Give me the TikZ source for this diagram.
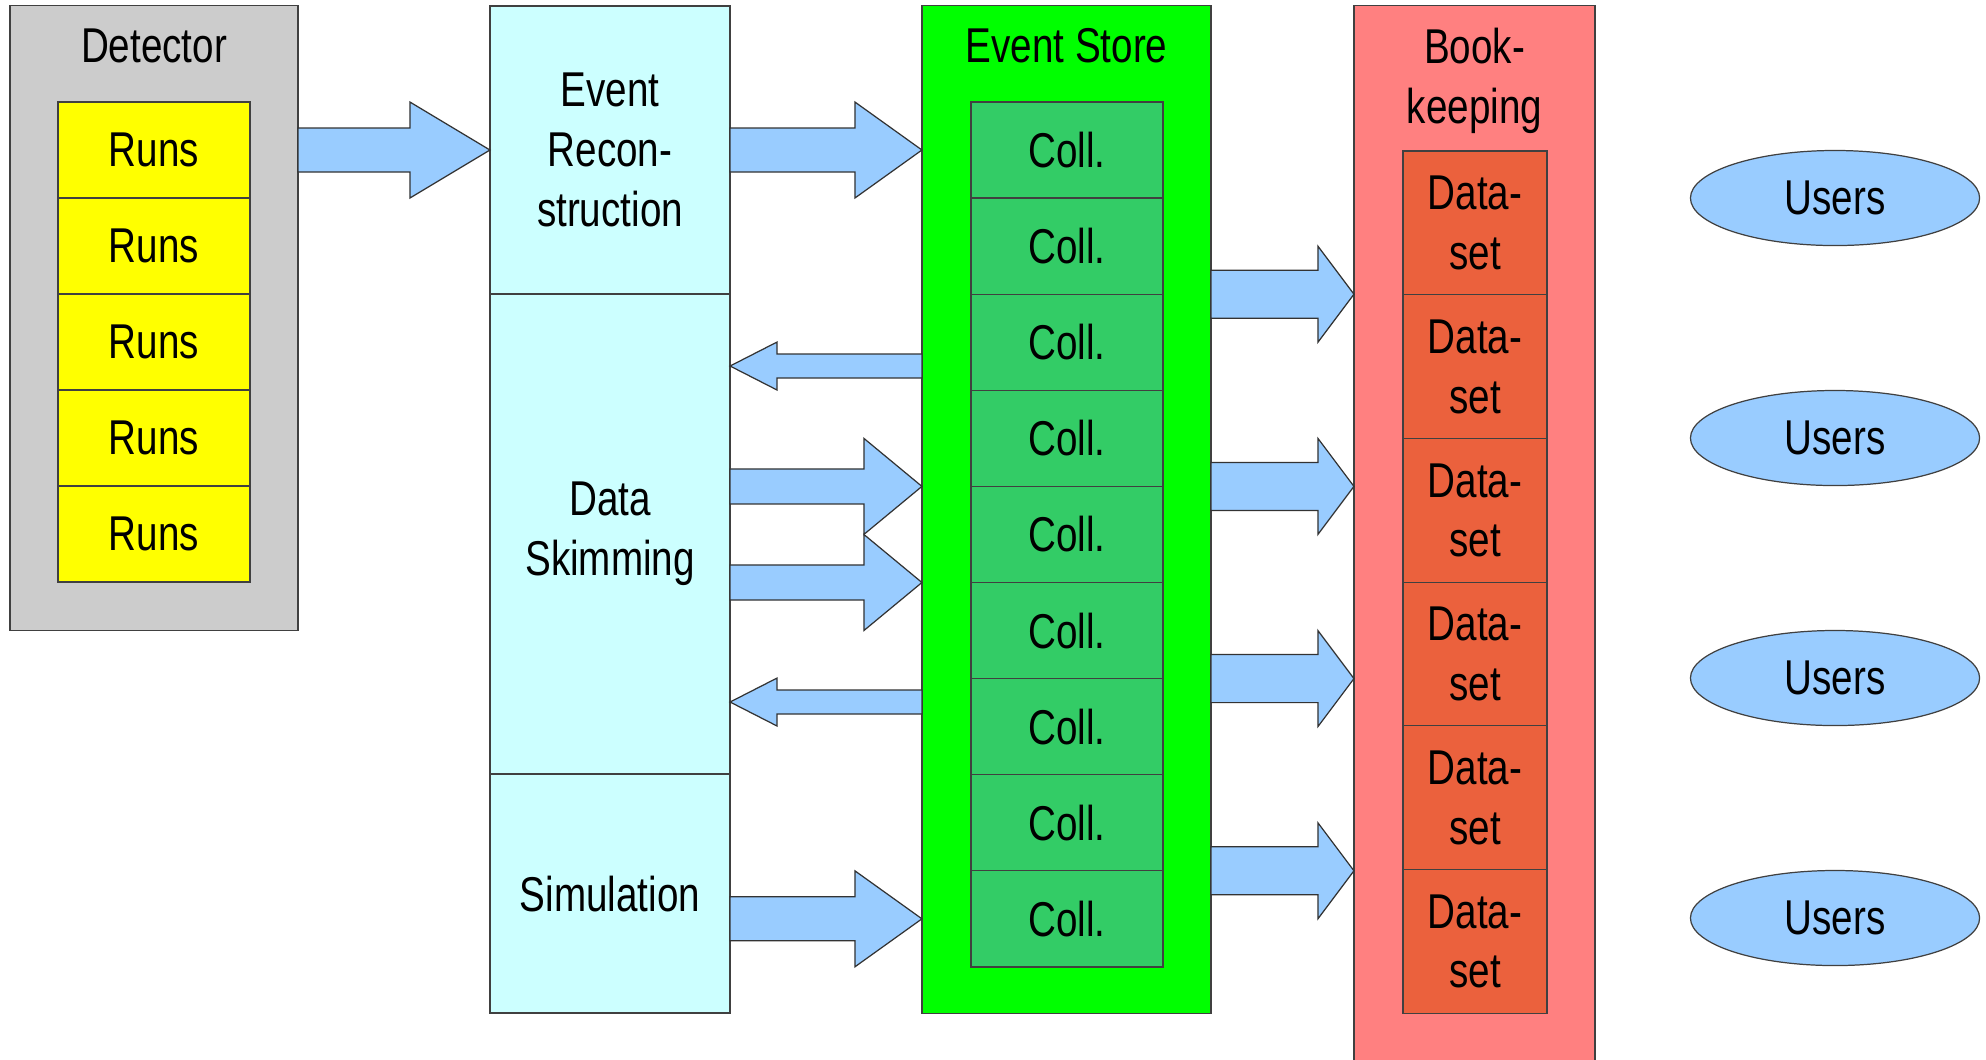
\documentclass[tikz,border=0pt]{standalone}
\usepackage{fontspec}
\setmainfont{Liberation Sans}[FakeStretch=0.79]
\usepackage{tikz}
\usetikzlibrary{calc,shapes.geometric}

\definecolor{detgray}{HTML}{CCCCCC}
\definecolor{runyellow}{HTML}{FFFF00}
\definecolor{procbg}{HTML}{CCFFFF}
\definecolor{storegreen}{HTML}{00FF00}
\definecolor{collgreen}{HTML}{33CC66}
\definecolor{bkred}{HTML}{FF8080}
\definecolor{dsetred}{HTML}{EB613D}
\definecolor{arrowblue}{HTML}{99CCFF}

% start, tip, head length, shaft half, head half
\newcommand{\blockarrow}[5]{%
  \draw[blk] let \p1=(#1), \p2=(#2), \p3=($(#2)!#3!(#1)$) in
    (\x1,\y1+#4) -- (\x3,\y1+#4) -- (\x3,\y1+#5) -- (\x2,\y2)
    -- (\x3,\y1-#5) -- (\x3,\y1-#4) -- (\x1,\y1-#4) -- cycle;}

\begin{document}
\begin{tikzpicture}[
      x=0.01cm, y=-0.01cm,
      font=\fontsize{13.9}{17}\selectfont,
      box/.style={draw=black!75,line width=0.35pt,inner sep=0pt,outer sep=0pt,align=center},
      runs/.style={box,fill=runyellow,minimum width=1.92cm,minimum height=0.96cm},
      coll/.style={box,fill=collgreen,minimum width=1.92cm,minimum height=0.961cm},
      dset/.style={box,fill=dsetred,minimum width=1.44cm,minimum height=1.437cm},
      proc/.style={box,fill=procbg,minimum width=2.40cm},
      users/.style={draw=black!75,line width=0.35pt,ellipse,fill=arrowblue,inner sep=0pt,
                    minimum width=2.89cm,minimum height=0.95cm},
      blk/.style={draw=black!80,fill=arrowblue,line width=0.35pt,line join=miter}
  ]
      \useasboundingbox (0,0) rectangle (1986,1059);

      % 큰 박스
      \node[box,fill=detgray,minimum width=2.88cm,minimum height=6.24cm] (det) at (154,318) {};
      \node[proc,minimum height=2.88cm] (recon) at (610,150) {Event\\Recon-\\struction};
      \node[proc,minimum height=4.80cm] (skim) at (610,534) {Data\\Skimming};
      \node[proc,minimum height=2.39cm] (sim) at (610,893.5) {Simulation};
      \node[box,fill=storegreen,minimum width=2.89cm,minimum height=10.07cm] (store) at (1066.5,509.5) {};
      \node[box,fill=bkred,minimum width=2.41cm,minimum height=10.59cm] (bk) at (1474.5,535.5) {};

      % 제목
      \node[anchor=base] (dettitle) at (154,62) {Detector};
      \node[anchor=base] (storetitle) at (1066.5,62) {Event Store};
      \node[align=center] (bktitle) at (1474.5,81) {Book-\\keeping};

      % Runs
      \node[runs] (run1) at (154,150) {Runs};
      \node[runs] (run2) at (154,246) {Runs};
      \node[runs] (run3) at (154,342) {Runs};
      \node[runs] (run4) at (154,438) {Runs};
      \node[runs] (run5) at (154,534) {Runs};

      % Coll.
      \node[coll] (coll1) at (1067,150) {Coll.};
      \node[coll] (coll2) at (1067,246.1) {Coll.};
      \node[coll] (coll3) at (1067,342.2) {Coll.};
      \node[coll] (coll4) at (1067,438.3) {Coll.};
      \node[coll] (coll5) at (1067,534.4) {Coll.};
      \node[coll] (coll6) at (1067,630.5) {Coll.};
      \node[coll] (coll7) at (1067,726.6) {Coll.};
      \node[coll] (coll8) at (1067,822.7) {Coll.};
      \node[coll] (coll9) at (1067,918.8) {Coll.};

      % Data-set
      \node[dset] (dset1) at (1475,222.9) {Data-\\set};
      \node[dset] (dset2) at (1475,366.6) {Data-\\set};
      \node[dset] (dset3) at (1475,510.3) {Data-\\set};
      \node[dset] (dset4) at (1475,654.0) {Data-\\set};
      \node[dset] (dset5) at (1475,797.7) {Data-\\set};
      \node[dset] (dset6) at (1475,941.4) {Data-\\set};

      % Users
      \node[users] (users1) at (1835,198) {Users};
      \node[users] (users2) at (1835,438) {Users};
      \node[users] (users3) at (1835,678) {Users};
      \node[users] (users4) at (1835,918) {Users};

      % 화살표
      \blockarrow{det.east |- recon}{recon.west}{0.80cm}{0.22cm}{0.48cm}
      \blockarrow{recon.east}{store.west |- recon}{0.67cm}{0.22cm}{0.48cm}
      \blockarrow{store.west |- 0,366}{skim.east |- 0,366}{0.47cm}{0.12cm}{0.24cm}
      \blockarrow{skim.east |- coll4.south}{store.west |- coll4.south}{0.58cm}{0.175cm}{0.48cm}
      \blockarrow{skim.east |- coll5.south}{store.west |- coll5.south}{0.58cm}{0.175cm}{0.48cm}
      \blockarrow{store.west |- 0,702}{skim.east |- 0,702}{0.47cm}{0.12cm}{0.24cm}
      \blockarrow{sim.east |- coll9}{store.west |- coll9}{0.67cm}{0.22cm}{0.48cm}

      \blockarrow{store.east |- coll2.south}{bk.west |- coll2.south}{0.36cm}{0.24cm}{0.48cm}
      \blockarrow{store.east |- coll4.south}{bk.west |- coll4.south}{0.36cm}{0.24cm}{0.48cm}
      \blockarrow{store.east |- coll6.south}{bk.west |- coll6.south}{0.36cm}{0.24cm}{0.48cm}
      \blockarrow{store.east |- coll8.south}{bk.west |- coll8.south}{0.36cm}{0.24cm}{0.48cm}
  \end{tikzpicture}
\end{document}
